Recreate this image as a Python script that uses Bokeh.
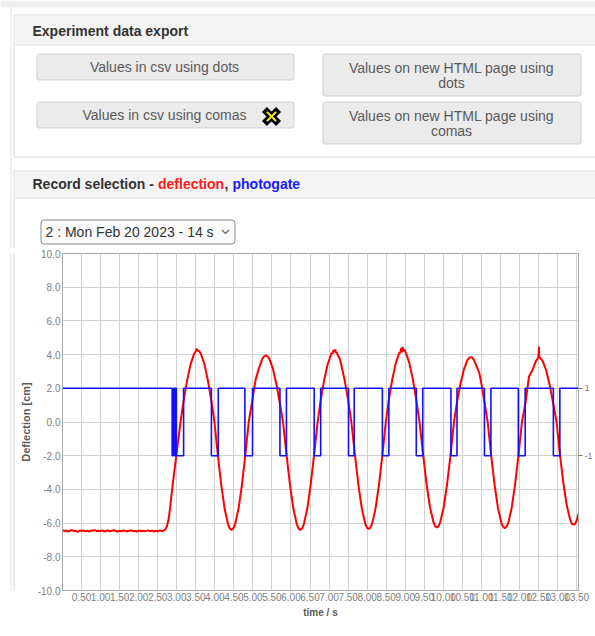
from bokeh.plotting import figure
from bokeh.models import Range1d, LinearAxis, FixedTicker, PrintfTickFormatter
from bokeh.layouts import column, row
from bokeh.embed import file_html
from bokeh.resources import INLINE
from bokeh.core.properties import value

# ---------------- data ----------------
time_s = [
    0.00, 0.05, 0.10, 0.15, 0.20, 0.25, 0.30, 0.35, 0.40, 0.45, 0.50, 0.55, 0.60, 0.65,
    0.70, 0.75, 0.80, 0.85, 0.90, 0.95, 1.00, 1.05, 1.10, 1.15, 1.20, 1.25, 1.30, 1.35,
    1.40, 1.45, 1.50, 1.55, 1.60, 1.65, 1.70, 1.75, 1.80, 1.85, 1.90, 1.95, 2.00, 2.05,
    2.10, 2.15, 2.20, 2.25, 2.30, 2.35, 2.40, 2.45, 2.50, 2.55, 2.60, 2.65,
    2.70, 2.74, 2.78, 2.82, 2.86, 2.90, 2.95, 3.01, 3.10,
    3.185, 3.275, 3.365, 3.455, 3.50, 3.525, 3.545, 3.59, 3.635, 3.725, 3.815, 3.905, 3.99,
    4.08, 4.17, 4.26, 4.35, 4.395, 4.44, 4.485, 4.53, 4.62, 4.71, 4.80, 4.89,
    4.98, 5.07, 5.16, 5.25, 5.295, 5.34, 5.385, 5.43, 5.52, 5.61, 5.70, 5.79,
    5.885, 5.975, 6.065, 6.155, 6.20, 6.245, 6.29, 6.335, 6.425, 6.515, 6.605, 6.70,
    6.78, 6.87, 6.96, 7.05, 7.075, 7.095, 7.115, 7.14, 7.16, 7.185, 7.21, 7.23, 7.26, 7.28,
    7.32, 7.41, 7.50, 7.585,
    7.68, 7.77, 7.86, 7.95, 7.995, 8.04, 8.085, 8.13, 8.22, 8.31, 8.40, 8.49,
    8.57, 8.66, 8.75, 8.84, 8.87, 8.895, 8.91, 8.93, 8.95, 8.975, 9.02, 9.11, 9.20, 9.29,
    9.375,
    9.47, 9.56, 9.65, 9.74, 9.785, 9.83, 9.875, 9.92, 10.01, 10.10, 10.19, 10.28,
    10.36, 10.45, 10.54, 10.63, 10.675, 10.72, 10.765, 10.81, 10.90, 10.94, 10.99, 11.08,
    11.165,
    11.255, 11.345, 11.435, 11.525, 11.57, 11.615, 11.66, 11.705, 11.795, 11.885, 11.975,
    12.065,
    12.16, 12.25, 12.34, 12.43, 12.475, 12.50, 12.51, 12.52, 12.565, 12.61, 12.70, 12.79,
    12.88, 12.975,
    13.06, 13.15, 13.24, 13.33, 13.375, 13.42, 13.465, 13.51, 13.55,
]
deflection_cm = [
    -6.42, -6.47, -6.44, -6.50, -6.45, -6.41, -6.48, -6.46, -6.52, -6.44, -6.47, -6.43, -6.49, -6.45,
    -6.50, -6.44, -6.46, -6.41, -6.48, -6.45, -6.47, -6.43, -6.50, -6.46, -6.44, -6.49, -6.45, -6.42,
    -6.47, -6.51, -6.45, -6.48, -6.44, -6.46, -6.50, -6.45, -6.43, -6.48, -6.46, -6.50, -6.44, -6.47,
    -6.45, -6.49, -6.46, -6.43, -6.48, -6.45, -6.50, -6.46, -6.48, -6.44, -6.47, -6.45,
    -6.38, -6.20, -5.85, -5.20, -4.40, -3.60, -2.70, -1.60, 0.00,
    1.31, 2.50, 3.44, 4.04, 4.20, 4.35, 4.25, 4.20, 4.04, 3.44, 2.50, 1.31, 0.00,
    -1.98, -3.76, -5.18, -6.09, -6.32, -6.40, -6.32, -6.09, -5.18, -3.76, -1.98, 0.00,
    1.22, 2.50, 3.20, 3.76, 3.90, 3.95, 3.90, 3.76, 3.20, 2.32, 1.22, 0.00,
    -1.98, -3.76, -5.18, -6.09, -6.32, -6.40, -6.32, -6.09, -5.18, -3.76, -1.98, 0.00,
    1.30, 2.47, 3.40, 3.99, 4.12, 4.05, 4.28, 4.15, 4.30, 4.10, 4.12, 3.95, 3.85, 3.75,
    3.40, 2.47, 1.30, 0.00,
    -1.96, -3.73, -5.14, -6.04, -6.27, -6.35, -6.27, -6.04, -5.14, -3.73, -1.96, 0.00,
    1.33, 2.53, 3.48, 4.09, 4.10, 4.40, 4.15, 4.45, 4.20, 4.30, 4.09, 3.48, 2.53, 1.33,
    0.00,
    -1.93, -3.68, -5.06, -5.94, -6.18, -6.25, -6.18, -5.94, -5.06, -3.68, -1.93, 0.00,
    1.19, 2.26, 3.11, 3.66, 3.80, 3.85, 3.80, 3.66, 3.15, 2.95, 2.40, 1.19,
    0.00,
    -1.95, -3.70, -5.10, -5.99, -6.22, -6.30, -6.22, -5.99, -5.10, -3.70, -1.95,
    0.00,
    1.17, 2.70, 3.07, 3.61, 3.75, 3.90, 4.48, 3.85, 3.75, 3.61, 3.07, 2.23,
    1.17, 0.00,
    -1.88, -3.59, -4.93, -5.80, -6.03, -6.10, -6.03, -5.80, -5.45,
]
gate_time_s = [0.0, 2.88, 2.91, 2.94, 2.96, 2.99, 3.18, 3.91, 4.09, 4.79, 4.99, 5.71, 5.88,
               6.61, 6.78, 7.51, 7.66, 8.40, 8.57, 9.29, 9.46, 10.20, 10.36, 11.08, 11.25,
               11.97, 12.15, 12.89, 13.06, 13.55]
gate_state = [1, -1, 1, -1, 1, -1, 1, -1, 1, -1, 1, -1, 1, -1, 1, -1, 1, -1, 1, -1, 1,
              -1, 1, -1, 1, -1, 1, -1, 1, 1]
x_ticks = [0.5, 1.0, 1.5, 2.0, 2.5, 3.0, 3.5, 4.0, 4.5, 5.0, 5.5, 6.0, 6.5, 7.0, 7.5,
           8.0, 8.5, 9.0, 9.5, 10.0, 10.5, 11.0, 11.5, 12.0, 12.5, 13.0, 13.5]
y_ticks = [-10, -8, -6, -4, -2, 0, 2, 4, 6, 8, 10]
gate_ticks = [-1, 1]

panel1_title = "Experiment data export"
button_left_labels = ["Values in csv using dots", "Values in csv using comas"]
button_right_line1 = ["Values on new HTML page using", "Values on new HTML page using"]
button_right_line2 = ["dots", "comas"]
panel2_title_parts = ["Record selection - ", "deflection", ", ", "photogate"]
record_label = "2 : Mon Feb 20 2023 - 14 s"

FONT = value("Liberation Sans")

# ---------------- UI part (page pixel coordinates) ----------------
ui = figure(width=595, height=248, x_range=Range1d(0, 595), y_range=Range1d(248, 0),
            x_axis_type=None, y_axis_type=None, output_backend="svg",
            toolbar_location=None, min_border=0)
ui.grid.visible = False
ui.outline_line_color = None
ui.background_fill_color = "white"
ui.border_fill_color = "white"

# top strip of the page
ui.quad(left=[0], right=[600], top=[0], bottom=[7], fill_color="#efefef", line_color=None)
ui.segment(x0=[10.5], y0=[7], x1=[10.5], y1=[260], line_color="#e4e4e4", line_width=1)

# panel 1
ui.quad(left=[13.5], right=[600], top=[14.5], bottom=[156.5], fill_color="white",
        line_color="#d4d4d4", line_width=1)
ui.quad(left=[14], right=[600], top=[15], bottom=[44], fill_color="#f4f4f4", line_color=None)
ui.segment(x0=[14], y0=[44.5], x1=[600], y1=[44.5], line_color="#dcdcdc", line_width=1)
ui.text(x=[32], y=[30], text=[panel1_title], text_font=FONT, text_font_size="14px",
        text_font_style="bold", text_color="#333333", text_baseline="middle")

# buttons
ui.quad(left=[36.5, 36.5], right=[293.5, 293.5], top=[53.5, 101.5], bottom=[79.5, 127.5],
        fill_color="#ebebeb", line_color="#cfcfcf", border_radius=2)
ui.quad(left=[322.5, 322.5], right=[580.5, 580.5], top=[53.5, 101.5], bottom=[95.5, 143.5],
        fill_color="#ebebeb", line_color="#cfcfcf", border_radius=2)
ui.text(x=[164, 164], y=[66.5, 114.5], text=button_left_labels, text_font=FONT,
        text_font_size="14px", text_color="#5a5a5a", text_align="center",
        text_baseline="middle")
ui.text(x=[451, 451], y=[67, 115], text=button_right_line1, text_font=FONT,
        text_font_size="14px", text_color="#5a5a5a", text_align="center",
        text_baseline="middle")
ui.text(x=[451, 451], y=[82, 130], text=button_right_line2, text_font=FONT,
        text_font_size="14px", text_color="#5a5a5a", text_align="center",
        text_baseline="middle")

# cursor-like marker
ui.scatter(x=[271], y=[116], marker="x", size=20, line_color="black", line_width=7)
ui.scatter(x=[271], y=[116], marker="x", size=13, line_color="#fff200", line_width=2)

# panel 2
ui.quad(left=[13.5], right=[600], top=[170.5], bottom=[270], fill_color="white",
        line_color="#d4d4d4", line_width=1)
ui.quad(left=[14], right=[600], top=[171], bottom=[197], fill_color="#f4f4f4", line_color=None)
ui.segment(x0=[14], y0=[197.5], x1=[600], y1=[197.5], line_color="#dcdcdc", line_width=1)
title_x = [32, 157.5, 224, 232]
title_col = ["#333333", "#ff1a1a", "#333333", "#1a1aff"]
ui.text(x=title_x, y=[183.5] * 4, text=panel2_title_parts, text_font=FONT,
        text_font_size="14px", text_font_style="bold", text_color=title_col,
        text_baseline="middle")

# dropdown
ui.quad(left=[40.5], right=[234.5], top=[219.5], bottom=[243.5], fill_color="#fbfbfb",
        line_color="#8a8a8a", line_width=1, border_radius=3)
ui.text(x=[45], y=[231.5], text=[record_label], text_font=FONT, text_font_size="14px",
        text_color="#333333", text_baseline="middle")
ui.line(x=[221.5, 225, 228.5], y=[229.5, 233, 229.5], line_color="#666666", line_width=1.2)

# left strip (continuation of the page borders)
strip = figure(width=15, height=388, x_range=Range1d(0, 15), y_range=Range1d(636, 248),
               x_axis_type=None, y_axis_type=None, output_backend="svg",
               toolbar_location=None, min_border=0)
strip.grid.visible = False
strip.outline_line_color = None
strip.segment(x0=[10.5, 13.5], y0=[240, 240], x1=[10.5, 13.5], y1=[640, 640],
              line_color=["#e4e4e4", "#d4d4d4"], line_width=1)

# ---------------- chart ----------------
chart = figure(width=580, height=388, x_range=Range1d(0, 13.55), y_range=Range1d(-10, 10),
               output_backend="svg", toolbar_location=None,
               min_border_left=47, min_border_right=15, min_border_top=5,
               min_border_bottom=46)
chart.extra_y_ranges = {"gate": Range1d(-5, 5)}
chart.outline_line_color = "#a8a8a8"

xa = chart.xaxis[0]
xa.ticker = FixedTicker(ticks=x_ticks)
xa.formatter = PrintfTickFormatter(format="%.2f")
ya = chart.yaxis[0]
ya.ticker = FixedTicker(ticks=y_ticks)
ya.formatter = PrintfTickFormatter(format="%.1f")

for ax in (xa, ya):
    ax.axis_line_color = "#a8a8a8"
    ax.major_tick_line_color = "#a8a8a8"
    ax.major_tick_out = 0
    ax.major_tick_in = 0
    ax.minor_tick_line_color = None
    ax.major_label_text_font = "Liberation Sans"
    ax.major_label_text_font_size = "10px"
    ax.major_label_text_color = "#808080"
    ax.major_label_standoff = 2
    ax.axis_label_text_font = "Liberation Sans"
    ax.axis_label_text_font_style = "bold"
    ax.axis_label_text_color = "#5a5a5a"

xa.axis_label = "time / s"
xa.axis_label_text_font_size = "10px"
xa.axis_label_standoff = 3
ya.axis_label = "Deflection [cm]"
ya.axis_label_text_font_size = "11px"
ya.axis_label_standoff = 3

ra = LinearAxis(y_range_name="gate", ticker=FixedTicker(ticks=gate_ticks),
                formatter=PrintfTickFormatter(format="%d"))
ra.axis_line_color = "#a8a8a8"
ra.major_tick_line_color = "#777777"
ra.major_tick_out = 4
ra.major_tick_in = 0
ra.minor_tick_line_color = None
ra.major_label_text_font = "Liberation Sans"
ra.major_label_text_font_size = "9px"
ra.major_label_text_color = "#808080"
ra.major_label_standoff = 2
chart.add_layout(ra, "right")

chart.xgrid.ticker = FixedTicker(ticks=x_ticks)
chart.ygrid.ticker = FixedTicker(ticks=y_ticks)
chart.grid.grid_line_color = "#d2d2d2"
chart.grid.grid_line_width = 1

chart.line(time_s, deflection_cm, line_color="#ff0000", line_width=2)
chart.step(gate_time_s, gate_state, mode="after", y_range_name="gate",
           line_color="#1010ff", line_width=1.6)

layout = column(ui, row(strip, chart))
open("out.html", "w").write(file_html(layout, INLINE))
